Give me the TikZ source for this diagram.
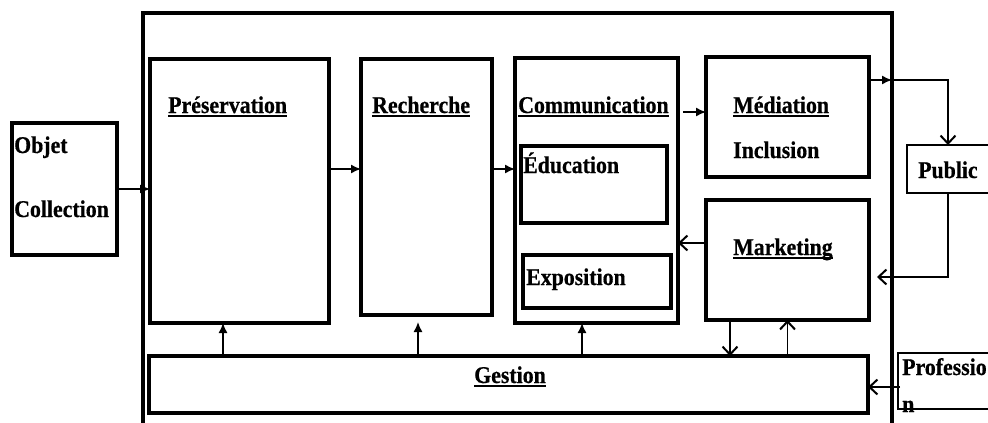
\documentclass[tikz,border=0pt]{standalone}
\usepackage{fontspec}
\setmainfont{Liberation Serif}
\newfontfamily\lblfont{Liberation Serif}[FakeStretch=0.91,FakeBold=0.6]
\usetikzlibrary{arrows.meta,calc}
\newcommand\myul[1]{\setbox0\hbox{#1}\rlap{\rule[-4pt]{\wd0}{2pt}}\box0}
\begin{document}
\begin{tikzpicture}[x=1pt,y=-1pt,
  box/.style={draw,line width=3.4pt,inner sep=0pt,outer sep=0pt},
  thinbox/.style={draw,line width=1.9pt,inner sep=0pt,outer sep=0pt},
  lbl/.style={anchor=base west,inner sep=0pt,font=\lblfont\fontsize{24}{28}\selectfont\bfseries},
  farr/.style={line width=1.5pt,-{Latex[length=10pt,width=9pt]}},
  oarr/.style={line width=1.5pt,-{Straight Barb[length=8pt,width=15pt,line width=2pt]}}]
\useasboundingbox (0,0) rectangle (988,423);
\clip (0,0) rectangle (988,423);
\fill[white] (0,0) rectangle (988,423);
% outer frame
\coordinate (fbl) at (143,430);
\coordinate (ftl) at (143,13);
\coordinate (ftr) at (892,13);
\coordinate (fbr) at (892,430);
\draw[line width=3.4pt] (fbl) -- (ftl) -- (ftr) -- (fbr);
% boxes
\node[box,minimum width=105pt,minimum height=132pt] (obj) at (64.5,189) {};
\node[box,minimum width=179pt,minimum height=264pt] (pres) at (239.5,191) {};
\node[box,minimum width=131pt,minimum height=256pt] (rech) at (426.5,187) {};
\node[box,minimum width=163pt,minimum height=265pt] (comm) at (596.5,190.5) {};
\node[box,minimum width=146pt,minimum height=77pt] (edu) at (594,184.5) {};
\node[box,minimum width=148pt,minimum height=53pt] (expo) at (597,281.5) {};
\node[box,minimum width=163pt,minimum height=120pt] (med) at (787.5,117) {};
\node[box,minimum width=163pt,minimum height=120pt] (mkt) at (787.5,260) {};
\node[box,minimum width=719pt,minimum height=57pt] (gest) at (508.5,384.5) {};
\node[thinbox,minimum width=93pt,minimum height=48pt] (pub) at (953.5,169) {};
\node[thinbox,minimum width=102pt,minimum height=56pt] (prof) at (949,381) {};
% labels
\node[lbl] (tobj) at (14,153) {Objet};
\node[lbl] (tcol) at (14,217) {Collection};
\node[lbl] (tpres) at (168,113) {\myul{Préservation}};
\node[lbl] (trech) at (372,113) {\myul{Recherche}};
\node[lbl] (tcomm) at (518,113) {\myul{Communication}};
\node[lbl] (tedu) at (523,173) {Éducation};
\node[lbl] (texpo) at (526,285) {Exposition};
\node[lbl] (tmed) at (733,113) {\myul{Médiation}};
\node[lbl] (tinc) at (733,158) {Inclusion};
\node[lbl] (tmkt) at (733,255) {\myul{Marketing}};
\node[lbl] (tgest) at (474,383) {\myul{Gestion}};
\node[lbl] (tpub) at (918,178) {Public};
\node[lbl] (tprof) at (902,375) {Professio};
\node[lbl] (tn) at (902,412) {n};
% connectors
\draw[farr] (obj.east) -- (obj.east -| pres.west);
\coordinate (a1) at (329,169);
\draw[farr] (a1) -- (a1 -| rech.west);
\draw[farr] (rech.east |- a1) -- (comm.west |- a1);
\coordinate (a2) at (683,112);
\draw[farr] (a2) -- (a2 -| med.west);
\coordinate (a3) at (869,80);
\coordinate (a4) at (948,80);
\draw[farr] (a3) -- (892,80);
\draw[oarr] (892,80) -- (a4) -- (a4 |- pub.north);
\coordinate (a5) at (948,277);
\coordinate (a5e) at (877,277);
\draw[oarr] (a4 |- pub.south) -- (a5) -- (a5e);
\coordinate (a6) at (706,243);
\draw[oarr] (a6) -- (a6 -| comm.east);
\coordinate (a7) at (730,320);
\draw[oarr] (a7) -- (a7 |- gest.north);
\draw[oarr] (mkt.south |- gest.north) -- (mkt.south);
\coordinate (a8) at (223,356);
\draw[farr] (a8) -- (a8 |- pres.south);
\coordinate (a9) at (418,356);
\coordinate (a9e) at (418,322);
\draw[farr] (a9) -- (a9e);
\coordinate (a10) at (582,356);
\draw[farr] (a10) -- (a10 |- comm.south);
\coordinate (a11) at (900,387);
\draw[oarr] (a11) -- (a11 -| gest.east);
\end{tikzpicture}
\end{document}
